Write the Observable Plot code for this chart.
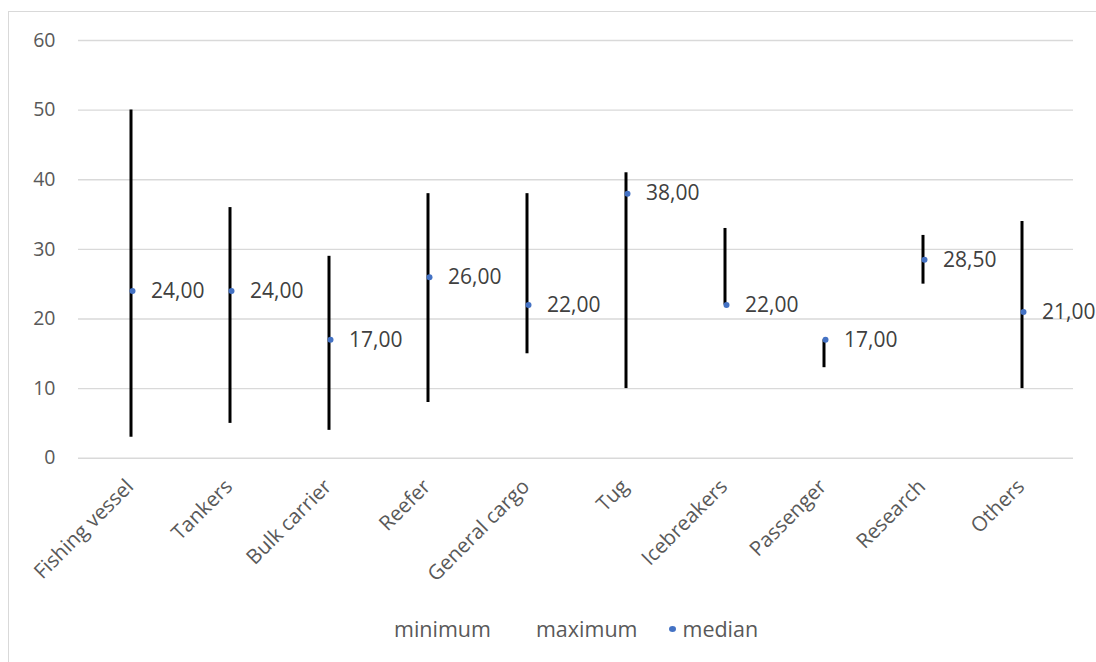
<!DOCTYPE html>
<html>
<head>
<meta charset="utf-8">
<script src="https://cdn.jsdelivr.net/npm/d3@7"></script>
<script src="https://cdn.jsdelivr.net/npm/@observablehq/plot@0.6"></script>
<style>
  html, body { margin: 0; padding: 0; background: #fff; overflow: hidden; }
  #wrap { position: relative; width: 1096px; height: 662px; overflow: hidden; font-family: "Open Sans", sans-serif; }
  #frame { position: absolute; left: 8px; top: 11px; width: 1200px; height: 800px; border: 1.5px solid #d9d9d9; box-sizing: border-box; }
  #chart { position: absolute; left: 0; top: 0; }
  #legend { position: absolute; left: 377px; top: 614px; display: flex; align-items: center; font-size: 21.5px; color: #595959; white-space: nowrap; }
  #legend .item { display: flex; align-items: center; margin-right: 28px; }
  #legend .key { width: 14px; height: 14px; display: flex; align-items: center; justify-content: center; margin-right: 3px; }
  #legend .dot { width: 7px; height: 6px; border-radius: 50%; background: #4472C4; }
</style>
</head>
<body>
<div id="wrap">
  <div id="frame"></div>
  <div id="chart"></div>
  <div id="legend"></div>
</div>
<script>
const categories = ["Fishing vessel", "Tankers", "Bulk carrier", "Reefer", "General cargo", "Tug", "Icebreakers", "Passenger", "Research", "Others"];
const minimum = [3, 5, 4, 8, 15, 10, 22, 13, 25, 10];
const maximum = [50, 36, 29, 38, 38, 41, 33, 17, 32, 34];
const median  = [24, 24, 17, 26, 22, 38, 22, 17, 28.5, 21];
const yTicks  = [0, 10, 20, 30, 40, 50, 60];
const legendLabels = ["minimum", "maximum", "median"];

const rows = categories.map((c, i) => ({cat: c, min: minimum[i], max: maximum[i], med: median[i]}));
const fmt = d3.formatLocale({decimal: ",", thousands: ".", grouping: [3], currency: ["", "€"]}).format(".2f");

const chart = Plot.plot({
  width: 1096,
  height: 600,
  marginTop: 40,
  marginBottom: 142.3,
  marginLeft: 78,
  marginRight: 23,
  style: {fontFamily: "Open Sans, sans-serif", background: "transparent", overflow: "visible"},
  x: {type: "band", domain: categories, padding: 0},
  y: {domain: [0, 60]},
  marks: [
    Plot.gridY(yTicks, {stroke: "#d9d9d9", strokeOpacity: 1, strokeWidth: 1.4}),
    Plot.axisY(yTicks, {tickSize: 0, tickPadding: 23, fontSize: 19.5, fill: "#595959", label: null}),
    Plot.axisX({tickSize: 0, tickPadding: 25, dx: -1, tickRotate: -45, fontSize: 20.5, fill: "#595959", label: null}),
    Plot.ruleX(rows, {x: "cat", y1: "min", y2: "max", stroke: "#000", strokeWidth: 3}),
    Plot.dot(rows, {x: "cat", y: "med", r: 3, dx: 1.5, fill: "#4472C4", stroke: "none"}),
    Plot.text(rows, {x: "cat", y: "med", text: d => fmt(d.med), dx: 20, textAnchor: "start", fontSize: 21, fill: "#404040"})
  ]
});
document.getElementById("chart").appendChild(chart);

const legend = document.getElementById("legend");
legendLabels.forEach((name, i) => {
  const item = document.createElement("div");
  item.className = "item";
  const key = document.createElement("span");
  key.className = "key";
  if (name === "median") {
    const dot = document.createElement("span");
    dot.className = "dot";
    key.appendChild(dot);
  }
  const label = document.createElement("span");
  label.textContent = name;
  item.appendChild(key);
  item.appendChild(label);
  legend.appendChild(item);
});
</script>
</body>
</html>
